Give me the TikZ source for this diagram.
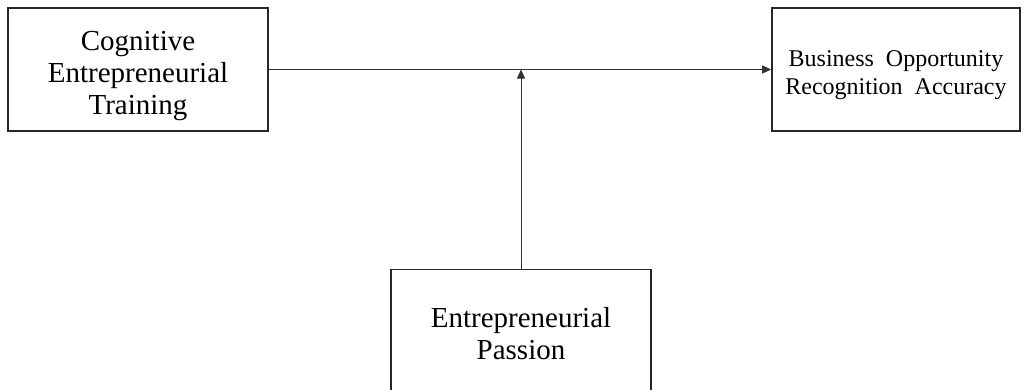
\documentclass[tikz,border=0pt]{standalone}
\usepackage{fontspec}
\setmainfont{Liberation Serif}
\usetikzlibrary{arrows.meta}
\begin{document}
\begin{tikzpicture}[x=1pt,y=-1pt,
  box/.style={draw=black!85,line width=1.6pt,minimum width=260pt,minimum height=123pt,
    inner sep=0pt,anchor=center},
  caption/.style={align=center,inner sep=0pt},
  bigtext/.style={caption,font=\fontsize{29}{32}\selectfont},
  smalltext/.style={caption,font=\fontsize{24}{28}\selectfont},
  link/.style={draw=black!80,line width=0.9pt,-{Triangle[length=9pt,width=8pt]}}]
  \clip (0,0) rectangle (1024,389);
  \fill[white] (0,0) rectangle (1024,389);
  % factor boxes
  \node[box] (training) at (138,69.5) {};
  \node[box,minimum width=248pt] (accuracy) at (896,69.5) {};
  \node[box] (passion) at (521,331) {};
  % box captions
  \node[bigtext] (training-text) at ([yshift=-6.5pt]training.center)
    {Cognitive\\Entrepreneurial\\Training};
  \node[smalltext] (accuracy-text) at ([yshift=-6pt]accuracy.center)
    {Business\enspace Opportunity\\Recognition\enspace Accuracy};
  \node[bigtext] (passion-text) at ([yshift=-3pt]passion.center)
    {Entrepreneurial\\Passion};
  % moderation point on the main path
  \coordinate (mod) at (passion.north |- training.east);
  % main effect and moderating effect
  \draw[link] (training.east) -- (accuracy.west);
  \draw[link] (passion.north) -- (mod);
\end{tikzpicture}
\end{document}
